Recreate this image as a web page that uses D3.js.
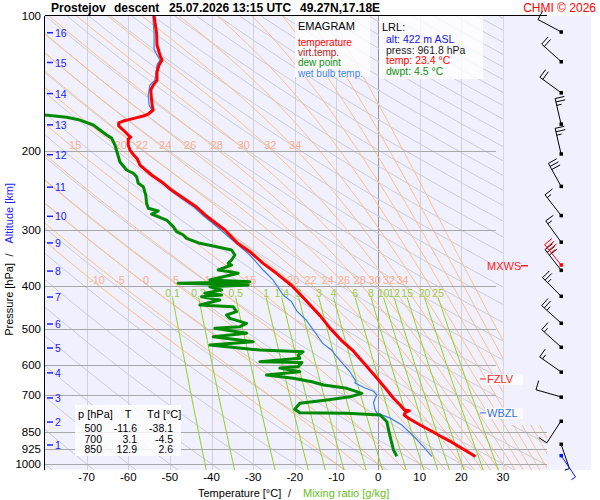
<!DOCTYPE html>
<html>
<head>
<meta charset="utf-8">
<title>Emagram Prostejov</title>
<script src="https://cdn.jsdelivr.net/npm/d3@7/dist/d3.min.js"></script>
<style>
  body { margin: 0; background: #fff; }
  svg text { font-family: "Liberation Sans", Arial, sans-serif; }
</style>
</head>
<body>
<svg id="chart" width="600" height="500"></svg>
<script>
(function () {
  'use strict';

  // sounding profiles: [pressure hPa, value °C]
  var temperature = [
    [100, -53.8], [109.2, -53.2], [116.1, -53.1], [122.2, -52.4], [125.4, -51.9], [128.6, -52.6],
    [133.4, -53.1], [139.0, -53.1], [142.6, -54.0], [146.3, -54.6], [154.0, -54.4], [159.6, -54.2],
    [162.1, -54.0], [165.5, -55.2], [167.2, -56.4], [169.0, -58.4], [171.6, -61.2], [173.3, -62.3],
    [176.0, -62.3], [179.7, -61.2], [184.4, -60.0], [186.3, -59.4], [188.2, -60.0], [194.1, -60.0],
    [199.2, -59.6], [204.3, -58.7], [208.6, -57.8], [215.1, -57.2], [226.4, -54.4], [236.0, -51.6],
    [244.6, -49.6], [254.8, -46.8], [266.9, -43.6], [279.6, -41.2], [292.8, -38.4], [300.4, -36.8],
    [321.2, -33.8], [335.9, -30.8], [356.6, -27.6], [375.3, -24.4], [400, -20.7], [425, -18.0],
    [467, -13.9], [498, -11.5], [529, -8.9], [560, -5.9], [606, -2.7], [649.5, 0.1], [683.7, 2.1],
    [713, 3.7], [738.5, 5.3], [757.7, 6.3], [760.5, 7.5], [768, 6.5], [777.4, 6.25], [790.7, 7.3],
    [818.4, 10.1], [845, 12.9], [866, 14.9], [895, 17.8], [961.8, 23.4]
  ];

  var dewPoint = [
    [160, -90], [166.3, -80.0], [168.3, -74.8], [170.7, -71.6], [175.1, -68.4], [179.7, -66.8],
    [184.4, -65.2], [187.3, -64.0], [194.1, -63.2], [204.3, -62.5], [211.8, -62.0], [220.7, -60.4],
    [224.4, -58.8], [228.4, -58.0], [236.3, -57.6], [240.4, -56.4], [250.9, -55.8], [261.9, -55.6],
    [268.7, -55.2], [272.4, -52.8], [276.7, -54.4], [279.6, -53.2], [285.4, -50.8], [295.3, -49.2],
    [303.0, -48.4], [308.2, -46.8], [313.5, -46.0], [321.7, -42.8], [327.3, -38.8], [332.9, -35.2],
    [341.6, -34.4], [350.5, -35.2], [356.5, -36.0], [359.6, -35.2], [369.0, -38.4], [372.2, -35.6],
    [375.3, -33.6], [381.9, -37.2], [388.5, -40.4], [391.9, -30.8], [395.2, -48.0], [398.6, -31.2],
    [402.1, -40.4], [409.0, -37.6], [415.9, -41.6], [419.6, -37.6], [423.4, -42.4], [430.5, -38.0],
    [441.7, -42.8], [445.6, -34.8], [457.1, -34.0], [465.0, -36.4], [473.0, -35.6], [485.3, -31.6],
    [493.8, -33.2], [497.9, -39.2], [510.9, -31.6], [519.8, -39.6], [533.3, -30.0], [542.6, -40.4],
    [556.7, -28.4], [561.6, -18.0], [571.2, -19.2], [580.9, -18.8], [591.1, -28.4], [593.5, -18.3],
    [606.5, -19.2], [610.6, -23.6], [622.3, -18.8], [633.0, -26.8], [643.9, -20.4], [655.2, -15.9],
    [666.4, -13.1], [677.7, -7.5], [695.4, -3.9], [707.6, -6.7], [719.7, -12.3], [732.0, -18.8],
    [754.8, -20.0], [768.2, -18.8], [770.5, -7.5], [777.4, 0.5], [804.6, 2.1], [854.1, 2.7],
    [930.6, 3.7], [961.8, 4.5]
  ];

  var wetBulb = [
    [100, -54.1], [109.2, -53.8], [119, -53.8], [125.4, -52.4], [128.6, -53.1], [139.0, -53.6],
    [142.6, -54.8], [150.1, -55.2], [158.0, -55.0], [162.1, -54.4], [165.5, -55.4], [167.2, -56.6],
    [169.0, -58.6], [171.6, -61.4], [173.3, -62.4], [176.0, -62.4], [179.7, -61.3], [184.4, -60.1],
    [186.3, -59.5], [188.2, -60.1], [194.1, -60.1], [199.2, -59.7], [204.3, -58.8], [208.6, -57.9],
    [215.1, -57.3], [226.4, -54.6], [236.0, -51.9], [244.6, -50.0], [254.8, -47.3], [266.9, -44.2],
    [279.6, -41.9], [292.8, -39.2], [300.4, -37.8], [341.6, -30.8], [369, -27.6], [388.5, -25.2],
    [419.6, -22.8], [434, -20.8], [456, -19.5], [477, -17.3], [502, -15.6], [520, -14.4],
    [538, -13.3], [557, -11.1], [571, -10.3], [591, -8.9], [620, -6.9], [649.5, -5.5], [660, -5.5],
    [676, -3.3], [688, -1.1], [701.5, -0.3], [713, -0.7], [731, -1.1], [757.7, -0.7], [769, -0.3],
    [790, 2.9], [818.4, 5.7], [866, 8.5], [911, 10.7], [961.8, 12.9]
  ];

  // altitude marks and wind, one per km
  var altKm = [1, 2, 3, 4, 5, 6, 7, 8, 9, 10, 11, 12, 13, 14, 15, 16];
  var altP = [907, 806, 712, 626, 551, 487, 424, 371, 321, 280, 241, 204, 175, 149, 127, 109];
  var windDir = [161, 213, 286, 305, 312, 312, 315, 322, 324, 322, 331, 347, 347, 306, 312, 298];
  var windKt = [5, 10, 10, 15, 15, 25, 25, 30, 15, 15, 30, 25, 25, 20, 20, 10];

  var pressureTicks = [100, 200, 300, 400, 500, 600, 700, 850, 925, 1000];
  var tempTicks = [-70, -60, -50, -40, -30, -20, -10, 0, 10, 20, 30];
  var mixRatios = [0.1, 0.2, 0.5, 1, 1.4, 2, 3, 4, 6, 8, 10, 12, 15, 20, 25];
  var thetaW = [-10, -5, 0, 5, 10, 15, 20, 22, 24, 26, 28, 30, 32, 34, 36, 38, 40, 42, 44, 46];
  var thetaWLabelMax = 34;
  var thetaWLabelP = [200, 400];

  var tableRows = [[500, -11.6, -38.1], [700, 3.1, -4.5], [850, 12.9, 2.6]];

  var surface = { p: 961.8, dir: 146, kt: 5 };
  var mxws = { p: 361, dir: 321, kt: 35 };
  var fzlvP = 646, wbzlP = 769;

  var legendItems = [['temperature', '#ff0000'], ['virt.temp.', '#b01818'],
    ['dew point', '#109010'], ['wet bulb temp.', '#3a80e8']];
  var lrlItems = [['alt: 422 m ASL', '#1414e6'], ['press: 961.8 hPa', '#222'],
    ['temp: 23.4 °C', '#ff0000'], ['dwpt: 4.5 °C', '#109010']];

  // --- layout ---
  var left = 45, top = 16, bottom = 470, right = 503, lowRight = 547, panelRight = 591;
  var x = d3.scaleLinear().domain([-80, 30]).range([left, right]);
  var y = d3.scaleLog().domain([100, 1000]).range([top, 464]);
  var pBottom = y.invert(bottom);
  var path = d3.line().x(function(d) { return x(d[1]); }).y(function(d) { return y(d[0]); });

  var svg = d3.select('#chart');

  svg.append('rect')
        .attr('x', left).attr('y', top)
        .attr('width', panelRight - left).attr('height', bottom - top)
        .attr('fill', '#f0f0ff');

  svg.append('defs').append('clipPath').attr('id', 'diag')
        .append('path')
        .attr('d', 'M' + left + ',' + top + 'H' + (right + 1) + 'V425H' + lowRight +
              'V' + bottom + 'H' + left + 'Z');

  var diag = svg.append('g').attr('clip-path', 'url(#diag)');

  // --- thermodynamics for the background lines ---
  var Rd = 287.04, cp = 1005.7, Lv = 2.501e6, eps = 0.622;
  function es(tk) {
        var tc = tk - 273.15;
        return 6.112 * Math.exp(17.67 * tc / (tc + 243.5));
  }
  function moistRate(tk, p) {
        var e = es(tk), rs = eps * e / (p - e);
        return (Rd * tk + Lv * rs) / (cp + Lv * Lv * rs * eps / (Rd * tk * tk));
  }
  function rk(t, l, h) {
        var k1 = moistRate(t, Math.exp(l));
        var k2 = moistRate(t + h * k1, Math.exp(l + h));
        return t + h * (k1 + k2) / 2;
  }
  function moistAdiabat(thw) {
        var t = thw + 273.15, l = Math.log(1000), pts = [[1000, thw]];
        while (Math.exp(l) > 100) {
              t = rk(t, l, -0.01); l -= 0.01;
              pts.push([Math.exp(l), t - 273.15]);
        }
        t = thw + 273.15; l = Math.log(1000);
        while (Math.exp(l) < pBottom + 5) {
              t = rk(t, l, 0.01); l += 0.01;
              pts.unshift([Math.exp(l), t - 273.15]);
        }
        return pts;
  }
  function tAt(pts, p) {
        for (var i = 1; i < pts.length; i++) {
              var a = pts[i - 1], b = pts[i];
              if ((a[0] - p) * (b[0] - p) <= 0) {
                    return a[1] + (b[1] - a[1]) * (p - a[0]) / (b[0] - a[0]);
              }
        }
        return NaN;
  }
  function mixT(w, p) {
        var e = w * p / (622 + w), l = Math.log(e / 6.112);
        return 243.5 * l / (17.67 - l);
  }
  var levelsDown = d3.range(0, 41).map(function(i) { return pBottom * Math.pow(100 / pBottom, i / 40); });

  // isotherms
  diag.selectAll('line.isotherm')
        .data(tempTicks.filter(function(d) { return d < 30; }))
        .join('line')
        .attr('x1', function(d) { return Math.round(x(d)) + 0.5; })
        .attr('x2', function(d) { return Math.round(x(d)) + 0.5; })
        .attr('y1', top).attr('y2', bottom)
        .attr('stroke', function(d) { return d === 0 ? '#969696' : '#d2d2da'; })
        .attr('stroke-width', 1);

  // dry adiabats
  diag.selectAll('path.dry')
        .data(d3.range(-80, 330, 10))
        .join('path')
        .attr('d', function(th) {
              return path(levelsDown.map(function(p) {
                    return [p, (th + 273.15) * Math.pow(p / 1000, 0.2857) - 273.15];
              }));
        })
        .attr('fill', 'none').attr('stroke', '#cdcdd6').attr('stroke-width', 1);

  // pseudo-adiabats
  var moist = thetaW.map(function(t) { return { tw: t, pts: moistAdiabat(t) }; });
  diag.selectAll('path.moist')
        .data(moist)
        .join('path')
        .attr('d', function(d) { return path(d.pts); })
        .attr('fill', 'none').attr('stroke', '#ffbf80').attr('stroke-width', 1);

  // mixing ratio lines
  var mixTop = 425;
  diag.selectAll('path.mix')
        .data(mixRatios)
        .join('path')
        .attr('d', function(w) {
              return path(d3.range(0, 21).map(function(i) {
                    var p = pBottom * Math.pow(mixTop / pBottom, i / 20);
                    return [p, mixT(w, p)];
              }));
        })
        .attr('fill', 'none').attr('stroke', '#94d01e').attr('stroke-width', 1);

  // isobars
  diag.selectAll('line.isobar')
        .data(pressureTicks.slice(1))
        .join('line')
        .attr('x1', left).attr('x2', function(d) { return d <= 700 ? 496 : lowRight; })
        .attr('y1', function(d) { return Math.round(y(d)) + 0.5; })
        .attr('y2', function(d) { return Math.round(y(d)) + 0.5; })
        .attr('stroke', '#a8a8a8').attr('stroke-width', 1);

  // pseudo-adiabat labels
  var moistLabels = [];
  thetaWLabelP.forEach(function(p) {
        moist.forEach(function(d) {
              if (d.tw > thetaWLabelMax) { return; }
              var t = tAt(d.pts, p);
              if (x(t) > left + 10) { moistLabels.push({ p: p, t: t, tw: d.tw }); }
        });
  });
  diag.selectAll('text.moist')
        .data(moistLabels)
        .join('text')
        .attr('x', function(d) { return x(d.t) - 2; })
        .attr('y', function(d) { return y(d.p) - 2; })
        .attr('text-anchor', 'middle')
        .attr('font-size', 11).attr('fill', '#fbaf8c')
        .text(function(d) { return d.tw; });

  diag.selectAll('text.mix')
        .data(mixRatios)
        .join('text')
        .attr('x', function(w) { return x(mixT(w, mixTop)); })
        .attr('y', y(mixTop) - 1)
        .attr('text-anchor', 'middle')
        .attr('font-size', 10.5).attr('fill', '#9ccc3a')
        .text(function(w) { return w; });

  // profiles
  diag.append('path').attr('d', path(wetBulb))
        .attr('fill', 'none').attr('stroke', '#3a80e8').attr('stroke-width', 1.2);
  diag.append('path').attr('d', path(dewPoint))
        .attr('fill', 'none').attr('stroke', '#008a00').attr('stroke-width', 3)
        .attr('stroke-linejoin', 'round');
  diag.append('path').attr('d', path(temperature))
        .attr('fill', 'none').attr('stroke', '#ff0000').attr('stroke-width', 3)
        .attr('stroke-linejoin', 'round');

  // frame
  svg.append('line').attr('x1', x(30) + 0.5).attr('x2', x(30) + 0.5).attr('y1', top).attr('y2', bottom)
        .attr('stroke', '#d6d6e0');
  svg.append('line').attr('x1', left).attr('x2', lowRight).attr('y1', top - 0.5).attr('y2', top - 0.5)
        .attr('stroke', '#000');
  svg.append('line').attr('x1', left - 0.5).attr('x2', left - 0.5).attr('y1', top).attr('y2', bottom)
        .attr('stroke', '#000');

  // title
  var title = svg.append('text').attr('y', 12).attr('font-size', 12).attr('font-weight', 'bold');
  [['Prostejov', 51], ['descent', 114], ['25.07.2026 13:15 UTC', 169], ['49.27N,17.18E', 300]]
        .forEach(function(d) { title.append('tspan').attr('x', d[1]).text(d[0]); });
  svg.append('text').attr('x', 596).attr('y', 12).attr('text-anchor', 'end')
        .attr('font-size', 12).attr('fill', '#ff0000').text('CHMI © 2026');

  // pressure axis
  svg.selectAll('text.plab')
        .data(pressureTicks)
        .join('text')
        .attr('x', 41).attr('y', function(d) { return y(d) + 4; })
        .attr('text-anchor', 'end').attr('font-size', 11.5)
        .text(function(d) { return d; });

  // altitude marks
  altKm.forEach(function(km, i) {
        var yy = y(altP[i]);
        svg.append('line').attr('x1', 47).attr('x2', 53).attr('y1', yy).attr('y2', yy)
              .attr('stroke', '#2020ff').attr('stroke-width', 1.5);
        svg.append('text').attr('x', 55).attr('y', yy + 4)
              .attr('font-size', 10.5).attr('fill', '#2020ff').text(km);
  });

  // temperature axis
  svg.selectAll('text.tlab')
        .data(tempTicks)
        .join('text')
        .attr('x', function(d) { return x(d); }).attr('y', 481)
        .attr('text-anchor', 'middle').attr('font-size', 11.5)
        .text(function(d) { return d; });

  svg.append('text').attr('x', 198).attr('y', 497).attr('font-size', 11).text('Temperature [°C]');
  svg.append('text').attr('x', 288).attr('y', 497).attr('font-size', 11).text('/');
  svg.append('text').attr('x', 303).attr('y', 497).attr('font-size', 11).attr('fill', '#66c01a')
        .text('Mixing ratio [g/kg]');

  var ytitle = svg.append('g').attr('transform', 'translate(13,0) rotate(-90)');
  ytitle.append('text').attr('x', -263).attr('text-anchor', 'end').attr('font-size', 11)
        .text('Pressure [hPa]');
  ytitle.append('text').attr('x', -255).attr('text-anchor', 'middle').attr('font-size', 11).text('/');
  ytitle.append('text').attr('x', -183).attr('text-anchor', 'end').attr('font-size', 11)
        .attr('fill', '#2020ff').text('Altitude [km]');

  // legend boxes
  svg.append('rect').attr('x', 295).attr('y', top).attr('width', 75).attr('height', 61)
        .attr('fill', '#ffffff').attr('fill-opacity', 0.8);
  svg.append('text').attr('x', 298).attr('y', 30).attr('font-size', 11).text('EMAGRAM');
  svg.selectAll('text.leg')
        .data(legendItems)
        .join('text')
        .attr('x', 298).attr('y', function(d, i) { return 45.5 + i * 10.4; })
        .attr('font-size', 10).attr('fill', function(d) { return d[1]; })
        .text(function(d) { return d[0]; });

  svg.append('rect').attr('x', 379).attr('y', top).attr('width', 104).attr('height', 63)
        .attr('fill', '#ffffff').attr('fill-opacity', 0.8);
  svg.append('text').attr('x', 382).attr('y', 31).attr('font-size', 11).text('LRL:');
  svg.selectAll('text.lrl')
        .data(lrlItems)
        .join('text')
        .attr('x', 386).attr('y', function(d, i) { return 43 + i * 10.5; })
        .attr('font-size', 10.5).attr('fill', function(d) { return d[1]; })
        .text(function(d) { return d[0]; });

  // table
  svg.append('rect').attr('x', 75).attr('y', 405).attr('width', 106).attr('height', 51)
        .attr('fill', '#ffffff').attr('fill-opacity', 0.8);
  svg.append('text').attr('x', 78).attr('y', 418).attr('font-size', 11).text('p [hPa]');
  svg.append('text').attr('x', 128).attr('y', 418).attr('text-anchor', 'middle').attr('font-size', 11).text('T');
  svg.append('text').attr('x', 147).attr('y', 418).attr('font-size', 11).text('Td [°C]');
  tableRows.forEach(function(r, i) {
        var yy = 432 + i * 10.5;
        [[r[0], 102], [r[1].toFixed(1), 137], [r[2].toFixed(1), 173]].forEach(function(c) {
              svg.append('text').attr('x', c[1]).attr('y', yy).attr('text-anchor', 'end')
                    .attr('font-size', 10.5).text(c[0]);
        });
  });

  // level marks
  function levelMark(p, label, color) {
        var yy = y(p);
        svg.append('rect').attr('x', 485).attr('y', yy - 5).attr('width', 38).attr('height', 11)
              .attr('fill', '#ffffff').attr('fill-opacity', 0.8);
        svg.append('line').attr('x1', 480).attr('x2', 486).attr('y1', yy).attr('y2', yy)
              .attr('stroke', color);
        svg.append('text').attr('x', 487).attr('y', yy + 4).attr('font-size', 11)
              .attr('fill', color).text(label);
  }
  levelMark(fzlvP, 'FZLV', '#ff2020');
  levelMark(wbzlP, 'WBZL', '#3a70e0');
  svg.append('text').attr('x', 487).attr('y', y(mxws.p) + 4).attr('font-size', 11)
        .attr('fill', '#ff2020').text('MXWS');
  svg.append('line').attr('x1', 521).attr('x2', 528).attr('y1', y(mxws.p)).attr('y2', y(mxws.p))
        .attr('stroke', '#ff2020').attr('stroke-width', 1.5);

  // wind barbs
  var barbs = svg.append('g');
  function drawBarb(p, dir, kt, color) {
        var sx = 561, sy = y(p) - 1, rad = dir * Math.PI / 180;
        var ux = Math.sin(rad), uy = -Math.cos(rad), bx = -uy, by = ux;
        var tx = sx + 26 * ux, ty = sy + 26 * uy;
        barbs.append('line').attr('x1', sx).attr('y1', sy).attr('x2', tx).attr('y2', ty)
              .attr('stroke', color);
        var n10 = Math.floor(kt / 10), n5 = Math.round((kt % 10) / 5), d = 0, i;
        for (i = 0; i < n10 + n5; i++) {
              var len = i < n10 ? 9.5 : 5;
              var ax = tx - d * ux, ay = ty - d * uy;
              barbs.append('line').attr('x1', ax).attr('y1', ay)
                    .attr('x2', ax + len * bx).attr('y2', ay + len * by)
                    .attr('stroke', color);
              d += 3.5;
        }
        barbs.append('rect').attr('x', sx - 1.5).attr('y', sy - 1.5)
              .attr('width', 3.5).attr('height', 3.5).attr('fill', color);
  }
  altKm.forEach(function(km, i) { drawBarb(altP[i], windDir[i], windKt[i], '#000'); });
  drawBarb(mxws.p, mxws.dir, mxws.kt, '#ff0000');
  drawBarb(surface.p, surface.dir, surface.kt, '#1010ff');
})();
</script>
</body>
</html>
